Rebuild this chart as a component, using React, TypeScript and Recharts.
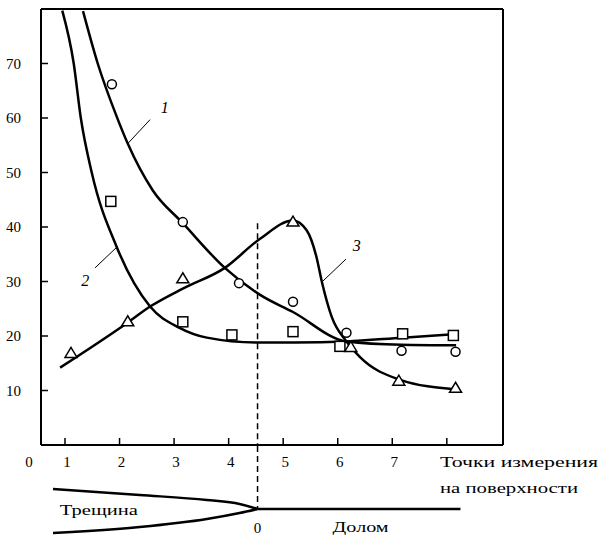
import React from 'react'
import {
  ComposedChart,
  Line,
  Scatter,
  XAxis,
  YAxis,
  ReferenceLine,
  ReferenceDot,
  Label,
} from 'recharts'

// axis
const X_MIN = 0.56
const X_MAX = 9.03
const X_TICKS = [1, 2, 3, 4, 5, 6, 7, 8]
const Y_TICKS = [10, 20, 30, 40, 50, 60, 70]
const CRACK_TIP_X = 4.53

// measured points
const circles = [
  { x: 1.86, y: 66.2 }, { x: 3.16, y: 40.9 }, { x: 4.19, y: 29.7 }, { x: 5.18, y: 26.3 },
  { x: 6.16, y: 20.6 }, { x: 7.17, y: 17.3 }, { x: 8.16, y: 17.1 },
]
const squares = [
  { x: 1.84, y: 44.7 }, { x: 3.16, y: 22.6 }, { x: 4.06, y: 20.2 }, { x: 5.18, y: 20.8 },
  { x: 6.04, y: 18.1 }, { x: 7.19, y: 20.4 }, { x: 8.12, y: 20.1 },
]
const triangles = [
  { x: 1.11, y: 16.8 }, { x: 2.15, y: 22.6 }, { x: 3.16, y: 30.5 }, { x: 5.18, y: 40.9 },
  { x: 6.24, y: 17.9 }, { x: 7.12, y: 11.7 }, { x: 8.16, y: 10.4 },
]

// fitted curves
const curve1 = [
  { x: 1.33, y: 79.6 }, { x: 1.6, y: 70 }, { x: 1.95, y: 60.2 }, { x: 2.15, y: 55.3 },
  { x: 2.61, y: 46.7 }, { x: 3.16, y: 40.7 }, { x: 3.93, y: 32.5 }, { x: 4.57, y: 27.6 },
  { x: 5.18, y: 24.4 }, { x: 6.16, y: 19 }, { x: 7.17, y: 18.4 }, { x: 8.17, y: 18.3 },
]
const curve2 = [
  { x: 0.95, y: 79.7 }, { x: 1.16, y: 70 }, { x: 1.29, y: 60 }, { x: 1.49, y: 50 },
  { x: 1.95, y: 36.3 }, { x: 2.56, y: 25.4 }, { x: 3.1, y: 21.5 }, { x: 3.6, y: 19.7 },
  { x: 4.52, y: 18.8 }, { x: 5.2, y: 18.8 }, { x: 6.16, y: 19 }, { x: 7.19, y: 19.7 },
  { x: 8.12, y: 20.3 },
]
const curve3 = [
  { x: 0.91, y: 14.2 }, { x: 2.14, y: 22.4 }, { x: 2.56, y: 25.4 }, { x: 3.16, y: 28.7 },
  { x: 3.93, y: 32.5 }, { x: 4.57, y: 37.8 }, { x: 5.18, y: 41.2 }, { x: 5.43, y: 39.4 },
  { x: 5.61, y: 34.5 }, { x: 5.71, y: 29.9 }, { x: 5.89, y: 23.5 }, { x: 6.16, y: 19 },
  { x: 6.4, y: 16.2 }, { x: 7.13, y: 12 }, { x: 8.17, y: 10.2 },
]

// crack sketch under the axis (y = opening, arbitrary units)
const crackUpper = [
  { x: 0.78, y: 20 }, { x: 2.37, y: 14 }, { x: 3.6, y: 9 }, { x: 4.2, y: 5 }, { x: 4.53, y: 0 },
]
const crackLower = [
  { x: 0.78, y: -24 }, { x: 2.37, y: -18 }, { x: 3.6, y: -10 }, { x: 4.2, y: -4 }, { x: 4.53, y: 0 },
]
const fracture = [{ x: 4.53, y: 0 }, { x: 8.25, y: 0 }]

const FONT = "'Liberation Serif', 'DejaVu Serif', serif"
const INK = '#000'
const txt = { fontFamily: FONT }

const YTick = ({ x, y, payload }: any) => (
  <g>
    <line x1={x + 20} x2={x + 27} y1={y} y2={y} stroke={INK} strokeWidth={1.5} />
    <text x={x} y={y} dy="0.35em" textAnchor="end" style={txt} fontSize={15} fill={INK}>
      {payload.value}
    </text>
  </g>
)

const XTick = ({ x, y, payload }: any) => {
  if (payload.value === X_MIN) {
    return (
      <text x={x - 12} y={y + 22} textAnchor="middle" style={txt} fontSize={15} fill={INK}>
        0
      </text>
    )
  }
  return (
    <g>
      <line x1={x} x2={x} y1={y} y2={y - 7} stroke={INK} strokeWidth={1.5} />
      {payload.value !== 8 && (
        <text x={x + 2} y={y + 22} textAnchor="middle" style={txt} fontSize={15} fill={INK}>
          {payload.value}
        </text>
      )}
    </g>
  )
}

const AxisTitle = ({ viewBox }: any) => {
  const x = viewBox.x + viewBox.width - 63
  return (
    <g style={txt} fontSize={15} fill={INK}>
      <text x={x} y={viewBox.y + 22} textLength={158} lengthAdjust="spacingAndGlyphs">Точки измерения</text>
      <text x={x} y={viewBox.y + 48} textLength={138} lengthAdjust="spacingAndGlyphs">на поверхности</text>
    </g>
  )
}

const Circle = ({ cx, cy }: any) => (
  <circle cx={cx} cy={cy} r={4.5} fill="#fff" stroke={INK} strokeWidth={1.5} />
)
const Square = ({ cx, cy }: any) => (
  <rect x={cx - 5} y={cy - 5} width={10} height={10} fill="#fff" stroke={INK} strokeWidth={1.5} />
)
const Triangle = ({ cx, cy }: any) => (
  <polygon
    points={`${cx},${cy - 6} ${cx - 6},${cy + 4} ${cx + 6},${cy + 4}`}
    fill="#fff"
    stroke={INK}
    strokeWidth={1.5}
  />
)

const curveLabel = (value: string) => ({
  value,
  position: 'center' as const,
  fontFamily: FONT,
  fontSize: 16,
  fontStyle: 'italic',
  fill: INK,
})

// centred text at a data point, stretched to the width seen in the picture
const textLabel = (value: string, width?: number) => ({
  content: ({ viewBox }: any) => (
    <text
      x={viewBox.x}
      y={viewBox.y}
      dy="0.35em"
      textAnchor="middle"
      style={txt}
      fontSize={15}
      fill={INK}
      textLength={width}
      lengthAdjust={width ? 'spacingAndGlyphs' : undefined}
    >
      {value}
    </text>
  ),
})

export default function App() {
  return (
    <div style={{ position: 'absolute', left: 0, top: 0, width: 614, height: 536, background: '#fff' }}>
      <div style={{ position: 'absolute', left: 0, top: 0 }}>
        <ComposedChart width={614} height={536} margin={{ top: 9, right: 111, left: 0, bottom: 61 }}>
          <XAxis
            dataKey="x"
            type="number"
            domain={[X_MIN, X_MAX]}
            ticks={[X_MIN, ...X_TICKS]}
            interval={0}
            height={30}
            tickSize={0}
            tickMargin={0}
            tickLine={false}
            tick={<XTick />}
            axisLine={{ stroke: INK, strokeWidth: 2 }}
            allowDataOverflow
          >
            <Label content={<AxisTitle />} />
          </XAxis>
          <YAxis
            dataKey="y"
            type="number"
            domain={[0, 80]}
            ticks={Y_TICKS}
            interval={0}
            width={41}
            tickSize={0}
            tickMargin={20}
            tickLine={false}
            tick={<YTick />}
            axisLine={{ stroke: INK, strokeWidth: 2 }}
            allowDataOverflow
          />
          <ReferenceLine y={80} stroke={INK} strokeWidth={2} />
          <ReferenceLine x={X_MAX} stroke={INK} strokeWidth={2} />
          <ReferenceLine
            segment={[{ x: CRACK_TIP_X, y: 40.7 }, { x: CRACK_TIP_X, y: 0 }]}
            stroke={INK}
            strokeWidth={1.5}
            strokeDasharray="6 4"
          />

          <Line data={curve1} dataKey="y" type="monotone" stroke={INK} strokeWidth={2.5} dot={false} isAnimationActive={false} />
          <Line data={curve2} dataKey="y" type="monotone" stroke={INK} strokeWidth={2.5} dot={false} isAnimationActive={false} />
          <Line data={curve3} dataKey="y" type="monotone" stroke={INK} strokeWidth={2.5} dot={false} isAnimationActive={false} />

          <Scatter data={circles} dataKey="y" shape={<Circle />} isAnimationActive={false} />
          <Scatter data={squares} dataKey="y" shape={<Square />} isAnimationActive={false} />
          <Scatter data={triangles} dataKey="y" shape={<Triangle />} isAnimationActive={false} />

          {/* curve numbers with leader lines */}
          <ReferenceLine segment={[{ x: 2.15, y: 55.3 }, { x: 2.56, y: 59.7 }]} stroke={INK} strokeWidth={1} />
          <ReferenceDot x={2.83} y={61.9} r={0} fill="none" stroke="none" label={curveLabel('1')} />
          <ReferenceLine segment={[{ x: 1.55, y: 32.5 }, { x: 1.95, y: 36.3 }]} stroke={INK} strokeWidth={1} />
          <ReferenceDot x={1.37} y={30.3} r={0} fill="none" stroke="none" label={curveLabel('2')} />
          <ReferenceLine segment={[{ x: 5.71, y: 29.9 }, { x: 6.15, y: 34.1 }]} stroke={INK} strokeWidth={1} />
          <ReferenceDot x={6.35} y={36.7} r={0} fill="none" stroke="none" label={curveLabel('3')} />
        </ComposedChart>
      </div>

      <div style={{ position: 'absolute', left: 0, top: 446 }}>
        <ComposedChart width={614} height={90} margin={{ top: 0, right: 111, left: 41, bottom: 0 }}>
          <XAxis dataKey="x" type="number" domain={[X_MIN, X_MAX]} hide allowDataOverflow />
          <YAxis dataKey="y" type="number" domain={[-27, 63]} hide allowDataOverflow />
          <ReferenceLine
            segment={[{ x: CRACK_TIP_X, y: 63 }, { x: CRACK_TIP_X, y: 0 }]}
            stroke={INK}
            strokeWidth={1.5}
            strokeDasharray="6 4"
          />
          <Line data={crackUpper} dataKey="y" type="monotone" stroke={INK} strokeWidth={2.5} dot={false} isAnimationActive={false} />
          <Line data={crackLower} dataKey="y" type="monotone" stroke={INK} strokeWidth={2.5} dot={false} isAnimationActive={false} />
          <Line data={fracture} dataKey="y" type="linear" stroke={INK} strokeWidth={2.5} dot={false} isAnimationActive={false} />
          <ReferenceDot x={1.62} y={-1} r={0} fill="none" stroke="none" label={textLabel('Трещина', 78)} />
          <ReferenceDot x={CRACK_TIP_X} y={-19} r={0} fill="none" stroke="none" label={textLabel('0')} />
          <ReferenceDot x={6.42} y={-18} r={0} fill="none" stroke="none" label={textLabel('Долом', 56)} />
        </ComposedChart>
      </div>
    </div>
  )
}
